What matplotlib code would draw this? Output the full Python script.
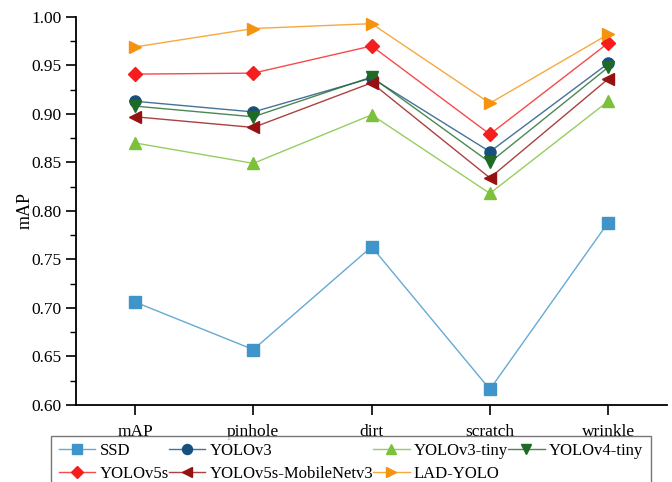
import matplotlib.pyplot as plt
from matplotlib.colors import to_rgba
from matplotlib.ticker import MultipleLocator

plt.rcParams["font.family"] = ["Liberation Serif", "DejaVu Serif"]
plt.rcParams["font.size"] = 12.5

categories = ["mAP", "pinhole", "dirt", "scratch", "wrinkle"]

ssd = [0.706, 0.657, 0.763, 0.616, 0.788]
yolov3 = [0.913, 0.902, 0.937, 0.861, 0.952]
yolov3_tiny = [0.870, 0.849, 0.899, 0.818, 0.913]
yolov4_tiny = [0.908, 0.897, 0.938, 0.850, 0.948]
yolov5s = [0.941, 0.942, 0.970, 0.879, 0.973]
yolov5s_mnv3 = [0.897, 0.886, 0.932, 0.834, 0.936]
lad_yolo = [0.969, 0.988, 0.993, 0.911, 0.982]

series = [
    ("SSD", ssd, "#3f95c9", "s"),
    ("YOLOv3", yolov3, "#17507e", "o"),
    ("YOLOv3-tiny", yolov3_tiny, "#7cc13a", "^"),
    ("YOLOv4-tiny", yolov4_tiny, "#1f6b26", "v"),
    ("YOLOv5s", yolov5s, "#f51d1d", "D"),
    ("YOLOv5s-MobileNetv3", yolov5s_mnv3, "#961212", "<"),
    ("LAD-YOLO", lad_yolo, "#f5930f", ">"),
]

fig = plt.figure(figsize=(6.72, 4.82), dpi=100)
ax = fig.add_axes([0.113, 0.16, 0.88, 0.805])

x = list(range(len(categories)))
handles = {}
for name, vals, col, mk in series:
    ms = 7 if mk == "D" else 8
    (h,) = ax.plot(x, vals, color=to_rgba(col, 0.8), lw=1.0,
                   marker=mk, markersize=ms, markerfacecolor=col,
                   markeredgecolor=col, label=name)
    handles[name] = h

ax.set_xlim(-0.5, 4.5)
ax.set_ylim(0.60, 1.00)
ax.set_xticks(x)
ax.set_xticklabels(categories)
ax.yaxis.set_major_locator(MultipleLocator(0.05))
ax.yaxis.set_minor_locator(MultipleLocator(0.025))
ax.yaxis.set_major_formatter(plt.FormatStrFormatter("%.2f"))
ax.set_ylabel("mAP", fontsize=13, labelpad=-2)
ax.spines["top"].set_visible(False)
ax.spines["right"].set_visible(False)
ax.spines["left"].set_linewidth(1.3)
ax.spines["bottom"].set_linewidth(1.3)
ax.tick_params(axis="both", which="major", direction="out", length=7, width=1.2)
ax.tick_params(axis="y", which="minor", direction="out", length=4, width=1.0)
ax.tick_params(axis="x", pad=7)

order = ["SSD", "YOLOv5s", "YOLOv3", "YOLOv5s-MobileNetv3",
         "YOLOv3-tiny", "LAD-YOLO", "YOLOv4-tiny"]
leg = fig.legend([handles[n] for n in order], order, ncol=4,
                 loc="upper left", bbox_to_anchor=(0.076, 0.096),
                 frameon=True, fancybox=False, edgecolor="#555555",
                 prop={"size": 12}, markerscale=0.9,
                 handlelength=2.2, handletextpad=0.25, columnspacing=0.0,
                 labelspacing=0.38, borderpad=0.45, borderaxespad=0.0)
leg.get_frame().set_linewidth(1.0)

plt.savefig("out.png", dpi=100)
